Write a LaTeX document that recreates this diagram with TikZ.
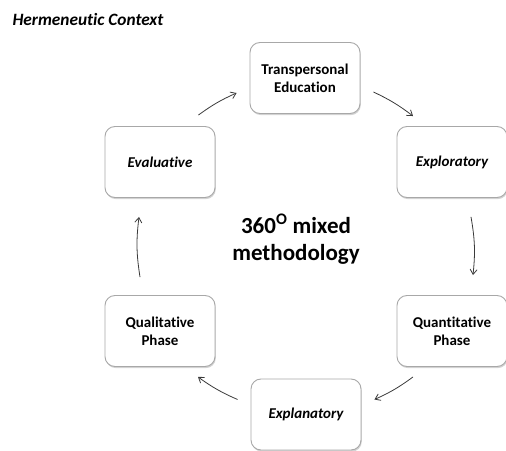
\documentclass[tikz,border=0pt]{standalone}
\usepackage{fontspec}
\setmainfont[Ligatures=NoCommon]{Carlito}
\usepackage{xcolor}
\usetikzlibrary{arrows.meta, shadows}

\definecolor{boxline}{HTML}{A8A8A8}
\definecolor{arrowgray}{HTML}{3A3A3A}

\begin{document}
\begin{tikzpicture}[
    x=1pt, y=1pt,
    phase/.style={
        rectangle,
        rounded corners=10pt,
        draw=boxline,
        line width=0.9pt,
        fill=white,
        drop shadow={opacity=0.35, shadow xshift=0.8pt, shadow yshift=-1.6pt},
        minimum width=110pt,
        minimum height=71pt,
        align=center,
        font=\fontsize{15}{18}\selectfont\bfseries
    },
    flow/.style={
        draw=arrowgray,
        line width=0.8pt,
        -{Straight Barb[length=5pt, width=7pt]}
    }
]
\useasboundingbox (0,0) rectangle (506,450);

% title
\node[anchor=base west, font=\fontsize{17.3}{20}\selectfont\bfseries\itshape] (title) at (9,424) {Hermeneutic Context};

% the six phases around the circle
\node[phase] (trans) at (305,372) {Transpersonal\\Education};
\node[phase] (explor) at (452,288) {\itshape Exploratory};
\node[phase] (quant) at (452,119) {Quantitative\\Phase};
\node[phase] (explan) at (306,35.5) {\itshape Explanatory};
\node[phase] (qual) at (160,119) {Qualitative\\Phase};
\node[phase] (eval) at (160,288) {\itshape Evaluative};

% centre label
\node[align=center, font=\fontsize{23}{27}\selectfont\bfseries] (centre) at (296,211) {360\textsuperscript{O} mixed\\methodology};

% clockwise arrows
\draw[flow] ([xshift=-17pt,yshift=11pt]eval.north east) to[bend left=6] ([xshift=-13pt,yshift=-15pt]trans.west);
\draw[flow] ([xshift=13pt,yshift=-14pt]trans.east) to[bend left=6] ([xshift=-39pt,yshift=10pt]explor.north);
\draw[flow] ([xshift=19pt,yshift=-19pt]explor.south) to[bend left=8] ([xshift=21pt,yshift=20pt]quant.north);
\draw[flow] ([xshift=-39pt,yshift=-10pt]quant.south) to[bend left=6] ([xshift=13pt,yshift=15pt]explan.east);
\draw[flow] ([xshift=-13pt,yshift=15pt]explan.west) to[bend left=6] ([xshift=38pt,yshift=-10pt]qual.south);
\draw[flow] ([xshift=-20pt,yshift=18pt]qual.north) to[bend left=8] ([xshift=-21pt,yshift=-19pt]eval.south);

\end{tikzpicture}
\end{document}
